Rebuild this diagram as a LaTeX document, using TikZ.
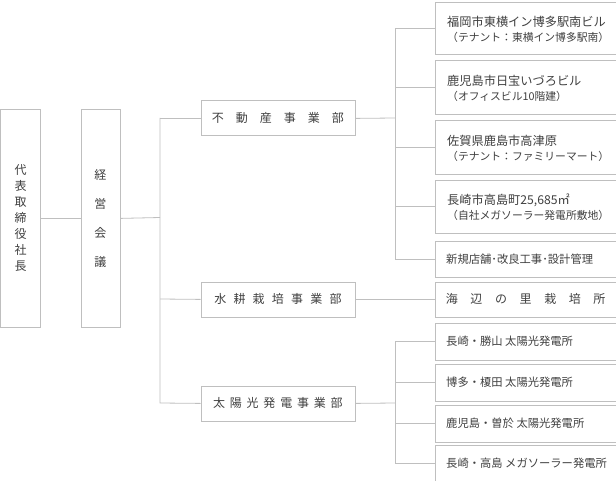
\documentclass[tikz,border=0pt]{standalone}
\usepackage{fontspec}
\setmainfont{Noto Sans CJK JP}
\begin{document}
\begin{tikzpicture}[x=1bp,y=-1bp,
  bx/.style={draw=black!25,line width=0.8bp,fill=white,text=black!80,inner sep=0pt,anchor=north west},
  ln/.style={draw=black!25,line width=0.8bp},
  tx/.style={text=black!75,inner sep=0pt}]
\useasboundingbox (0,0) rectangle (616,481);
% left boxes
\node[bx,minimum width=39.5bp,minimum height=217bp] (ceo) at (0.5,109.5) {};
\node[tx,align=center,font=\fontsize{12bp}{16bp}\selectfont] at (ceo.center) {代\\表\\取\\締\\役\\社\\長};
\node[bx,minimum width=39bp,minimum height=217bp] (kai) at (80.5,109.5) {};
\node[tx,align=center,font=\fontsize{12bp}{29bp}\selectfont] at (kai.center) {経\\営\\会\\議};
% divisions
\node[bx,minimum width=154bp,minimum height=35bp] (d1) at (200.5,100.5) {};
\node[tx,font=\fontsize{12bp}{14bp}\selectfont] at (d1.center) {不\hspace{1em}動\hspace{1em}産\hspace{1em}事\hspace{1em}業\hspace{1em}部};
\node[bx,minimum width=154bp,minimum height=35bp] (d2) at (200.5,281.5) {};
\node[tx,font=\fontsize{12bp}{14bp}\selectfont] at (d2.center) {水\hspace{0.6em}耕\hspace{0.6em}栽\hspace{0.6em}培\hspace{0.6em}事\hspace{0.6em}業\hspace{0.6em}部};
\node[bx,minimum width=154bp,minimum height=35bp] (d3) at (200.5,385.5) {};
\node[tx,font=\fontsize{12bp}{14bp}\selectfont] at (d3.center) {太\hspace{0.4em}陽\hspace{0.4em}光\hspace{0.4em}発\hspace{0.4em}電\hspace{0.4em}事\hspace{0.4em}業\hspace{0.4em}部};
% right boxes
\foreach \n/\y/\h in {r1/2.5/52,r2/60.5/54,r3/120.5/54,r4/180.5/52,r5/240.5/36,w1/281.5/35,s1/322.5/37,s2/363.5/37,s3/404.5/37,s4/444.5/36}
  \node[bx,minimum width=180.5bp,minimum height=\h bp] (\n) at (435,\y) {};
\def\TT#1#2#3{\node[tx,anchor=west,align=left] at ([xshift=12bp]#1.west) {{\fontsize{12.2bp}{14bp}\selectfont #2}\\[3bp]{\fontsize{10.8bp}{12bp}\selectfont #3}};}
\TT{r1}{福岡市東横イン博多駅南ビル}{（テナント：東横イン博多駅南）}
\TT{r2}{鹿児島市日宝いづろビル}{（オフィスビル10階建）}
\TT{r3}{佐賀県鹿島市高津原}{（テナント：ファミリーマート）}
\TT{r4}{長崎市高島町25,685㎡}{（自社メガソーラー発電所敷地）}
\def\T#1#2{\node[tx,anchor=west,font=\fontsize{11.3bp}{14bp}\selectfont] at ([xshift=11bp]#1.west) {#2};}
\T{r5}{新規店舗･改良工事･設計管理}
\node[tx,font=\fontsize{12bp}{14bp}\selectfont] at (w1.center) {海\hspace{1.05em}辺\hspace{1.05em}の\hspace{1.05em}里\hspace{1.05em}栽\hspace{1.05em}培\hspace{1.05em}所};
\T{s1}{長崎・勝山 太陽光発電所}
\T{s2}{博多・榎田 太陽光発電所}
\T{s3}{鹿児島・曽於 太陽光発電所}
\T{s4}{長崎・高島 メガソーラー発電所}
% connectors
\draw[ln] (ceo.east) -- (kai.west);
\coordinate (j0) at (160,217.5);
\draw[ln] (kai.east) -- (j0);
\draw[ln] (160,118) |- (d1.west);
\draw[ln] (160,118) -- (160,403) -- (d3.west);
\draw[ln] (160,299) -- (d2.west);
\coordinate (j1) at (395,118);
\draw[ln] (d1.east) -- (j1);
\draw[ln] (395,28.5) -- (395,258.5);
\foreach \n in {r1,r2,r3,r4,r5} \draw[ln] (395,0 |- \n.west) -- (\n.west);
\draw[ln] (d2.east) -- (w1.west);
\coordinate (j3) at (395,403);
\draw[ln] (d3.east) -- (j3);
\draw[ln] (395,341) -- (395,462.5);
\foreach \n in {s1,s2,s3,s4} \draw[ln] (395,0 |- \n.west) -- (\n.west);
\end{tikzpicture}
\end{document}
